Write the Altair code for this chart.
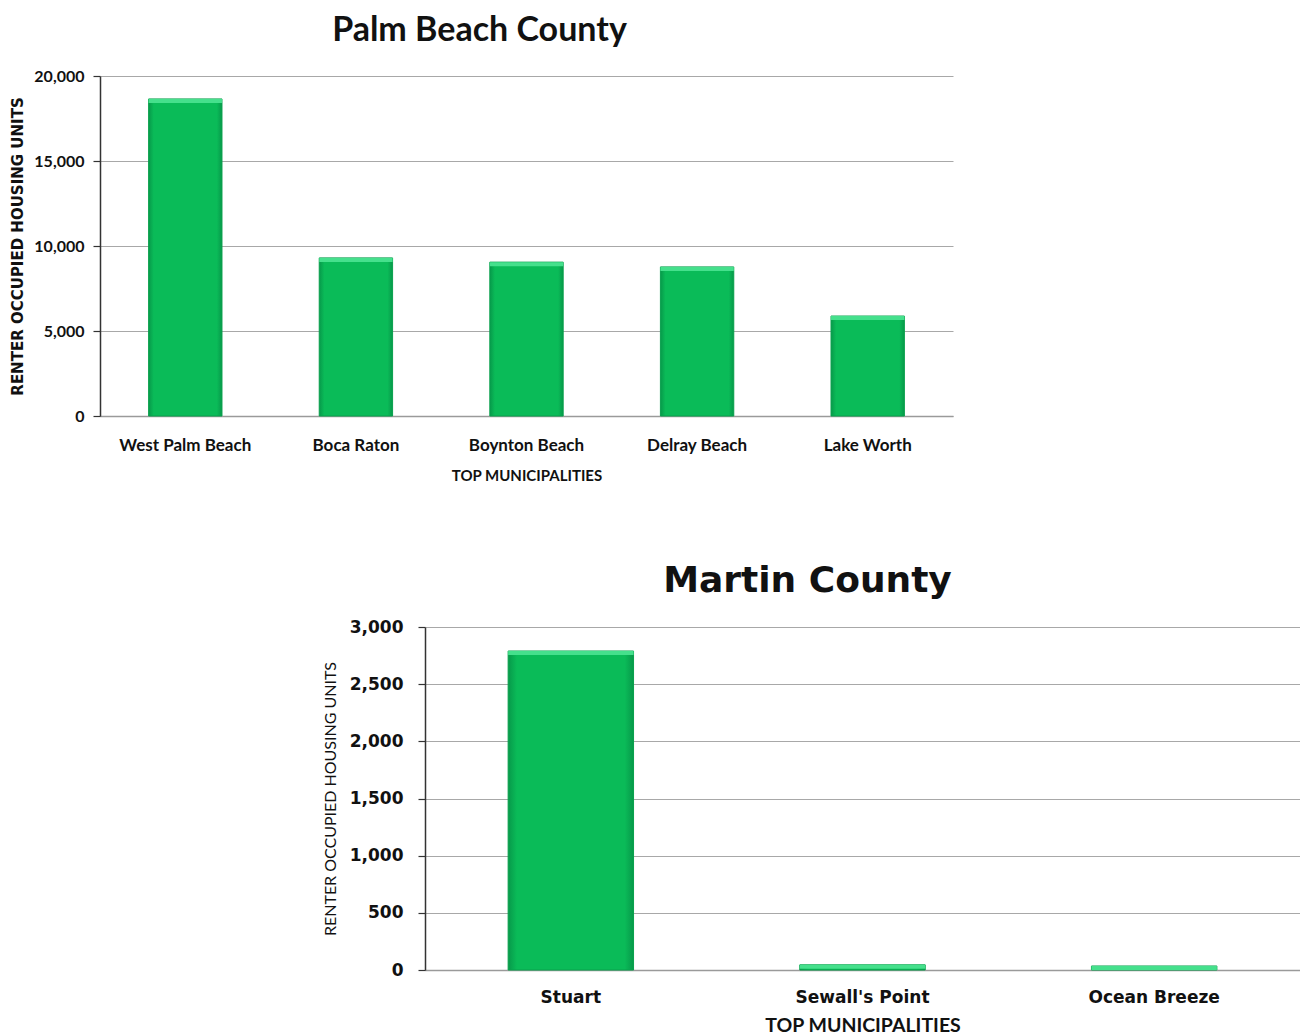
import altair as alt
import pandas as pd

# ---- data ----
pb_cities = ["West Palm Beach", "Boca Raton", "Boynton Beach", "Delray Beach", "Lake Worth"]
pb_units = [18650, 9300, 9050, 8770, 5880]
mc_cities = ["Stuart", "Sewall's Point", "Ocean Breeze"]
mc_units = [2790, 45, 35]

pb_df = pd.DataFrame({"city": pb_cities, "units": pb_units})
mc_df = pd.DataFrame({"city": mc_cities, "units": mc_units})

NARROW = "Lato"
WIDE = "DejaVu Sans"

bar_fill = alt.Gradient(
    gradient="linear",
    stops=[
        alt.GradientStop(color="#07994a", offset=0),
        alt.GradientStop(color="#0abb58", offset=0.07),
        alt.GradientStop(color="#0abb58", offset=0.93),
        alt.GradientStop(color="#07994a", offset=1),
    ],
    x1=0, x2=1, y1=0, y2=0,
)


def county_chart(df, cities, title, title_font, title_size, title_dx, title_offset,
                 ymax, ystep, width, height, lab_font, lab_size, ylab_pad,
                 ytitle_font, ytitle_size, ytitle_weight, ytitle_pad,
                 xlab_size, xtitle_font, xtitle_size, xlab_pad, xtitle_pad):
    xenc = alt.X(
        "city:N", sort=cities,
        scale=alt.Scale(paddingInner=0.57, paddingOuter=0.285),
        axis=alt.Axis(
            title="TOP MUNICIPALITIES", labelAngle=0, ticks=False,
            domainColor="#9a9a9a", domainWidth=1.5,
            labelFont=lab_font, labelFontSize=xlab_size, labelFontWeight="bold",
            labelColor="#111111", labelPadding=xlab_pad,
            titleFont=xtitle_font, titleFontSize=xtitle_size, titleFontWeight="bold",
            titleColor="#111111", titlePadding=xtitle_pad,
        ),
    )
    yenc = alt.Y(
        "units:Q",
        scale=alt.Scale(domain=[0, ymax], nice=False),
        axis=alt.Axis(
            title="RENTER OCCUPIED HOUSING UNITS",
            values=list(range(0, ymax + 1, ystep)), format=",.0f",
            grid=True, gridColor="#a8a8a8", gridWidth=1,
            domainColor="#333333", domainWidth=1.5,
            tickColor="#333333", tickSize=7, tickWidth=1.2,
            labelFont=lab_font, labelFontSize=lab_size, labelFontWeight="bold",
            labelColor="#111111", labelPadding=ylab_pad,
            titleFont=ytitle_font, titleFontSize=ytitle_size,
            titleFontWeight=ytitle_weight, titleColor="#111111",
            titlePadding=ytitle_pad,
        ),
    )
    base = alt.Chart(df)
    bars = base.mark_bar(fill=bar_fill, stroke="#08a04c", strokeWidth=1).encode(x=xenc, y=yenc)
    top = base.mark_bar(color="#45e08c", y2Offset=4).encode(
        x=alt.X("city:N", sort=cities), y="units:Q", y2="units:Q"
    )
    return (bars + top).properties(
        width=width, height=height,
        title=alt.TitleParams(
            text=title, font=title_font, fontSize=title_size, fontWeight="bold",
            color="#111111", anchor="middle", dx=title_dx, offset=title_offset,
        ),
    )


pb_chart = county_chart(
    pb_df, pb_cities, "Palm Beach County", NARROW, 34, -47, 20,
    20000, 5000, 853, 340, NARROW, 16, 9, WIDE, 15, "bold", 8,
    17, NARROW, 15, 21, 15,
)
mc_chart = county_chart(
    mc_df, mc_cities, "Martin County", WIDE, 36, -55, 18,
    3000, 500, 875, 343, WIDE, 17, 15, NARROW, 16, "normal", 11,
    17, NARROW, 19.5, 19, 11,
)

spacer = alt.Chart(pd.DataFrame({"a": [0]})).mark_point(opacity=0).encode(
    x=alt.value(0), y=alt.value(0)
).properties(width=222, height=10)

chart = alt.vconcat(
    pb_chart,
    alt.hconcat(spacer, mc_chart, spacing=0),
    spacing=80,
).properties(
    padding={"left": 10, "top": 14, "right": 0, "bottom": 0},
    background="white",
).configure_view(strokeWidth=0)

chart.save("out.html", embed_options={"renderer": "svg", "actions": False})
